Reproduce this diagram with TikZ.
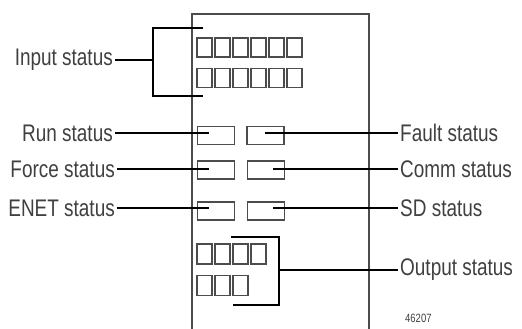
\documentclass[tikz,border=0pt]{standalone}
\usepackage{fontspec}
\setmainfont{Liberation Sans}[FakeStretch=0.79]
\usepackage{xcolor}
\usetikzlibrary{positioning}
\definecolor{labgray}{rgb}{0.25,0.25,0.25}
\definecolor{ledgray}{rgb}{0.30,0.30,0.30}

\begin{document}
\begin{tikzpicture}[x=1pt, y=-1pt,
    every node/.style={font=\fontsize{24}{24}\selectfont, text=labgray, inner sep=2pt},
    led/.style={draw=ledgray, line width=1.1pt, minimum width=15pt, minimum height=19pt, inner sep=0pt},
    wled/.style={led, minimum width=37pt, minimum height=18pt},
    leader/.style={black, line width=1.1pt}]
  \useasboundingbox (0,0) rectangle (522,329);
  % Module front panel
  \draw[ledgray, line width=1.3pt] (192,335) -- (192,14) -- (369,14) -- (369,335);
  % Input indicators, two rows of six
  \foreach \i in {0,...,5} {
    \node[led] (inA\i) at (204.5+18*\i,47.5) {};
    \node[led] (inB\i) at (204.5+18*\i,78) {};
  }
  % Status indicators
  \node[wled] (runled)   at (216,135.5) {};
  \node[wled] (faultled) at (265.5,135.5) {};
  \node[wled] (forceled) at (216,170) {};
  \node[wled] (commled)  at (266,170) {};
  \node[wled] (enetled)  at (216,211) {};
  \node[wled] (sdled)    at (266,211) {};
  % Output indicators, four and three
  \foreach \i in {0,...,3}
    \node[led, minimum height=20pt] (outA\i) at (204.5+18*\i,254) {};
  \foreach \i in {0,...,2}
    \node[led, minimum height=20pt] (outB\i) at (204.5+18*\i,285.5) {};
  % Left labels
  \node[anchor=east] (input) at (115,60) {Input status};
  \node[anchor=east] (run)   at (115,133) {Run status};
  \node[anchor=east] (force) at (117,169) {Force status};
  \node[anchor=east] (enet)  at (117,208) {ENET status};
  % Right labels
  \node[anchor=west] (fault)  at (398,133) {Fault status};
  \node[anchor=west] (comm)   at (398,169) {Comm status};
  \node[anchor=west] (sd)     at (398,208) {SD status};
  \node[anchor=west] (output) at (398,270) {Output status};
  \node[anchor=west, font=\fontsize{12}{12}\selectfont] (figno) at (403,318) {46207};
  % Leader ends
  \coordinate (inbrk) at (153,60);
  \coordinate (intop) at (203,28);
  \coordinate (inbot) at (203,96);
  \coordinate (runend)   at (209,133);
  \coordinate (forceend) at (209,169);
  \coordinate (enetend)  at (209,208);
  \coordinate (faultend) at (265,133);
  \coordinate (commend)  at (273,169);
  \coordinate (sdend)    at (273,208);
  \coordinate (outbrk) at (279,270);
  \coordinate (outtop) at (231,237);
  \coordinate (outbot) at (233,305);
  % Leaders
  \draw[leader] (intop) -| (inbrk) |- (inbot);
  \draw[leader] (input.east) -- (inbrk);
  \draw[leader] (run.east) -- (runend);
  \draw[leader] (force.east) -- (forceend);
  \draw[leader] (enet.east) -- (enetend);
  \draw[leader] (faultend) -- (fault.west);
  \draw[leader] (commend) -- (comm.west);
  \draw[leader] (sdend) -- (sd.west);
  \draw[leader] (outtop) -| (outbrk) |- (outbot);
  \draw[leader] (outbrk) -- (output.west);
\end{tikzpicture}
\end{document}
